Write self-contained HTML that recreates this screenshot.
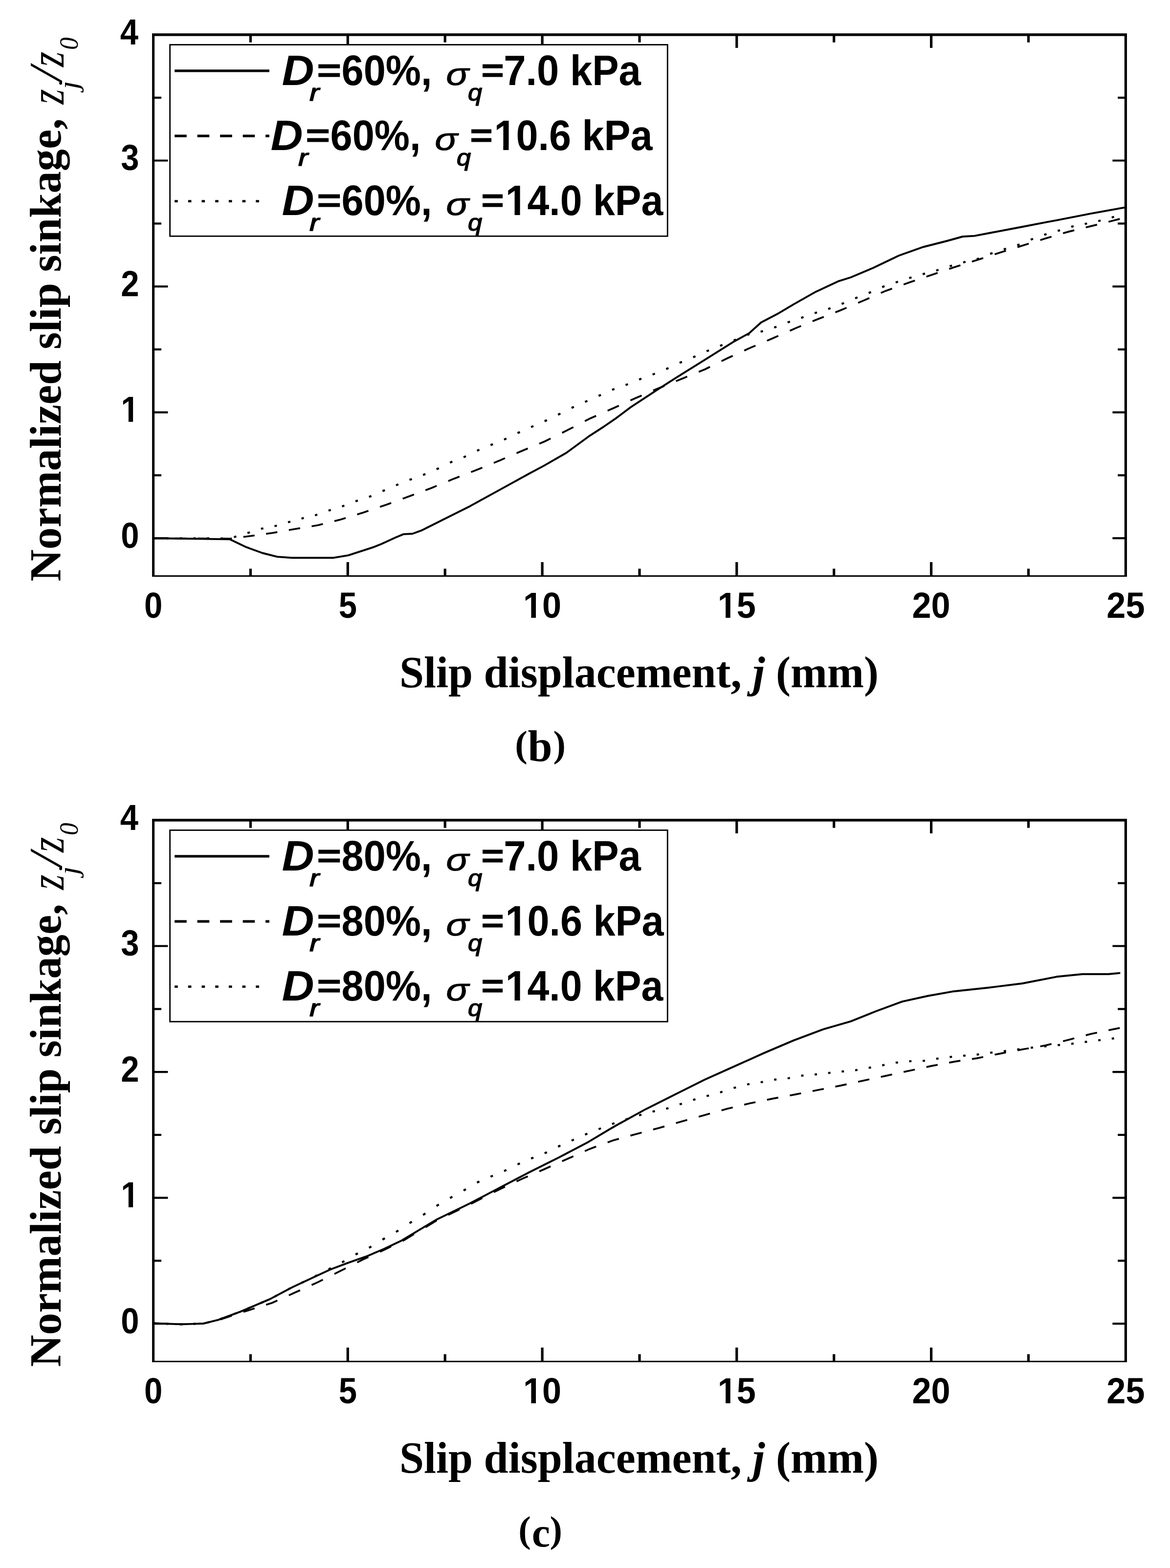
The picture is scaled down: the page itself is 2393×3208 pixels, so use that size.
<!DOCTYPE html>
<html lang="en">
<head>
<meta charset="utf-8">
<title>Normalized slip sinkage versus slip displacement</title>
<style>
html,body{margin:0;padding:0;background:#fff;}
body{width:2393px;height:3208px;overflow:hidden;}
svg{display:block;}
text{white-space:pre;fill:#000;}
.sb{font-family:"Liberation Sans",Arial,Helvetica,sans-serif;font-weight:700;}
.sbi{font-family:"Liberation Sans",Arial,Helvetica,sans-serif;font-weight:700;font-style:italic;}
.tb{font-family:"Liberation Serif","Times New Roman",Times,serif;font-weight:700;}
.tbi{font-family:"Liberation Serif","Times New Roman",Times,serif;font-weight:700;font-style:italic;}
.ti{font-family:"Liberation Serif","Times New Roman",Times,serif;font-weight:400;font-style:italic;}
.si{font-family:"Liberation Sans",Arial,Helvetica,sans-serif;font-weight:400;font-style:italic;}
.i{font-style:italic;}
</style>
</head>
<body>
<svg width="2393" height="3208" viewBox="0 0 2393 3208">
<rect width="2393" height="3208" fill="#fff"/>
<defs>
<clipPath id="k0" clipPathUnits="userSpaceOnUse"><path d="M-55.96 -88.80H55.96V37.00H-55.96ZM-39.04 -8.35H-23.88V1.50H-39.04ZM-13.73 -8.35H0.09V1.50H-13.73Z" clip-rule="evenodd"/></clipPath>
<clipPath id="k1" clipPathUnits="userSpaceOnUse"><path d="M-55.96 -88.80H55.96V37.00H-55.96ZM-39.04 -8.35H-23.88V1.50H-39.04ZM-13.73 -8.35H0.09V1.50H-13.73Z" clip-rule="evenodd"/></clipPath>
<clipPath id="k2" clipPathUnits="userSpaceOnUse"><path d="M-55.96 -88.80H14.80V37.00H-55.96ZM-39.04 -8.35H-23.88V1.50H-39.04ZM-13.73 -8.35H0.09V1.50H-13.73Z" clip-rule="evenodd"/></clipPath>
<clipPath id="k3" clipPathUnits="userSpaceOnUse"><path d="M-17.60 -105.60H369.90V44.00H-17.60ZM2.80 -9.78H20.54V1.50H2.80ZM32.61 -9.78H48.77V1.50H32.61Z" clip-rule="evenodd"/></clipPath>
<clipPath id="k4" clipPathUnits="userSpaceOnUse"><path d="M-17.60 -105.60H369.90V44.00H-17.60ZM2.80 -9.78H20.54V1.50H2.80ZM32.61 -9.78H48.77V1.50H32.61Z" clip-rule="evenodd"/></clipPath>
</defs>
<g transform="translate(0,0)">
<path d="M512.4 1178v-14.6M512.4 72v14.8M711.3 1178v-28M711.3 72v26M910.2 1178v-14.6M910.2 72v14.8M1109.1 1178v-28M1109.1 72v26M1308.0 1178v-14.6M1308.0 72v14.8M1506.8 1178v-28M1506.8 72v26M1705.7 1178v-14.6M1705.7 72v14.8M1904.6 1178v-28M1904.6 72v26M2103.5 1178v-14.6M2103.5 72v14.8" stroke="#000" stroke-width="5.2" fill="none"/>
<path d="M316 1101.1h27.4M2300 1101.1h-24.6M316 972.4h14M2300 972.4h-13.8M316 843.6h27.4M2300 843.6h-24.6M316 714.8h14M2300 714.8h-13.8M316 586.1h27.4M2300 586.1h-24.6M316 457.3h14M2300 457.3h-13.8M316 328.5h27.4M2300 328.5h-24.6M316 199.8h14M2300 199.8h-13.8" stroke="#000" stroke-width="4.2" fill="none"/>
<path d="M313.5 1101.3L317.6 1101.3M340.4 1101.3L345.2 1101.3M368.0 1101.4L372.8 1101.4M395.7 1101.4L400.5 1101.4M423.3 1101.4L428.1 1101.4M450.9 1101.5L455.7 1101.5M478.5 1098.9L483.3 1097.5M506.1 1090.6L508.0 1090.0L510.9 1089.1M533.8 1082.1L535.5 1081.6L538.6 1081.0M561.4 1076.4L563.6 1076.0L566.2 1075.2M589.0 1068.6L591.0 1068.0L593.8 1067.2M616.6 1061.0L618.7 1060.4L621.4 1059.7M644.2 1054.2L647.0 1053.5L649.0 1052.8M671.9 1044.8L674.7 1043.8L676.7 1043.2M699.5 1036.1L702.0 1035.3L704.3 1034.4M727.1 1025.7L729.0 1025.0L731.9 1024.0M754.7 1016.6L756.4 1016.0L759.5 1014.7M782.3 1004.8L783.6 1004.3L787.1 1002.8M810.0 992.9L811.8 992.1L814.8 990.9M837.6 981.8L839.9 980.9L842.4 980.0M865.2 971.7L867.2 971.0L870.0 969.8M892.8 960.0L895.6 958.8L897.6 957.8M920.4 946.6L923.2 945.2L925.2 944.4M948.1 935.4L950.1 934.6L952.9 933.3M975.7 922.2L977.6 921.3L980.5 920.1M1003.3 910.7L1005.5 909.8L1008.1 908.7M1030.9 899.3L1032.7 898.6L1035.7 897.1M1058.5 886.1L1060.9 885.0L1063.3 883.9M1086.2 873.8L1088.1 872.9L1091.0 871.7M1113.8 861.7L1116.6 860.5L1118.6 859.5M1141.4 848.5L1144.1 847.2L1146.2 846.1M1169.0 834.6L1171.3 833.5L1173.8 832.4M1196.6 822.3L1198.6 821.4L1201.4 820.1M1224.3 810.0L1226.4 809.0L1229.1 807.8M1251.9 797.7L1253.7 796.9L1256.7 795.8M1279.5 787.7L1281.8 786.9L1284.3 785.9M1307.1 776.5L1309.9 775.4L1311.9 774.7M1334.7 766.3L1337.2 765.4L1339.5 764.4M1362.4 755.0L1364.4 754.2L1367.2 752.9M1390.0 742.4L1392.6 741.2L1394.8 740.3M1417.6 730.9L1419.8 730.0L1422.4 728.8M1445.2 718.7L1447.0 717.9L1450.0 716.7M1472.8 707.5L1474.9 706.7L1477.6 705.6M1500.5 696.6L1502.0 696.0L1505.3 694.6M1528.1 685.1L1529.4 684.6L1532.9 683.8M1555.7 678.6L1558.1 678.0L1560.5 677.3M1583.3 670.1L1585.4 669.5L1588.1 668.5M1610.9 659.8L1613.2 658.9L1615.7 658.1M1638.6 650.4L1640.4 649.8L1643.4 648.8M1666.2 640.7L1668.0 640.1L1671.0 639.2M1693.8 632.1L1695.2 631.7L1698.6 630.4M1721.4 621.8L1723.4 621.1L1726.2 619.9M1749.0 610.4L1750.6 609.7L1753.8 608.4M1776.7 599.5L1779.1 598.5L1781.5 597.5M1804.3 587.5L1806.5 586.5L1809.1 585.6M1831.9 577.9L1834.0 577.2L1836.7 576.3M1859.5 569.1L1861.1 568.6L1864.3 567.6M1887.1 560.9L1887.8 560.7L1891.9 559.6M1914.8 553.5L1915.7 553.2L1919.6 552.0M1942.4 544.7L1945.0 543.9L1947.2 543.3M1970.0 536.9L1971.7 536.4L1974.8 535.6M1997.6 530.0L2001.0 529.2L2002.4 528.6M2025.2 519.5L2027.6 518.6L2030.0 517.8M2052.9 510.2L2054.2 509.8L2057.7 508.7M2080.5 501.8L2082.2 501.3L2085.3 500.0M2108.1 490.4L2109.6 489.8L2112.9 488.6M2135.7 480.4L2136.8 480.0L2140.5 478.9M2163.3 472.3L2164.8 471.9L2168.1 470.9M2191.0 464.1L2192.6 463.6L2195.8 462.9M2218.6 458.2L2220.5 457.8L2223.4 457.2M2246.2 452.3L2248.9 451.7L2251.0 451.1M2273.8 444.9L2276.2 444.2L2278.6 443.6" fill="none" stroke="#000" stroke-width="4.2"/>
<path d="M313.5 1101.3L334.4 1101.4M358.0 1101.5L381.0 1101.6M404.5 1101.7L427.5 1101.8M451.1 1101.9L470.0 1102.0L474.1 1101.5M497.7 1098.5L509.5 1097.0L520.7 1095.5M544.2 1092.2L556.5 1090.5L567.2 1088.6M590.8 1084.5L603.5 1082.3L613.8 1080.6M637.4 1076.7L650.5 1074.5L660.4 1072.0M684.0 1066.1L696.5 1063.0L707.0 1059.8M730.5 1052.5L743.5 1048.5L753.5 1045.1M777.1 1037.0L790.6 1032.4L800.1 1028.9M823.7 1020.3L836.0 1015.8L846.7 1011.8M870.2 1003.0L882.9 998.2L893.2 993.9M916.8 984.2L928.3 979.4L939.8 975.0M963.4 965.9L975.2 961.3L986.4 956.7M1009.9 947.1L1021.2 942.5L1032.9 937.4M1056.5 927.2L1067.5 922.5L1079.5 917.5M1103.1 907.7L1113.8 903.2L1126.1 897.1M1149.7 885.5L1160.4 880.2L1172.7 873.9M1196.2 861.7L1206.8 856.2L1219.2 850.7M1242.8 840.3L1253.1 835.7L1265.8 830.0M1289.4 819.3L1299.3 814.8L1312.4 809.2M1335.9 799.0L1341.7 796.5L1358.9 789.5M1382.5 779.9L1393.2 775.5L1405.5 770.5M1429.1 760.8L1441.6 755.7L1452.1 750.5M1475.7 738.9L1487.6 733.0L1498.7 728.0M1522.2 717.2L1533.9 711.9L1545.2 707.1M1568.8 697.1L1580.2 692.2L1591.8 687.1M1615.4 676.7L1626.8 671.6L1638.4 666.9M1661.9 657.3L1673.1 652.8L1684.9 648.2M1708.5 639.0L1719.4 634.7L1731.5 629.6M1755.1 619.6L1764.6 615.6L1778.1 609.7M1801.6 599.4L1812.0 594.9L1824.6 590.4M1848.2 582.1L1859.4 578.1L1871.2 574.1M1894.8 566.1L1906.1 562.3L1917.8 558.3M1941.3 550.3L1952.4 546.5L1964.3 542.7M1987.9 535.2L1999.1 531.7L2010.9 527.9M2034.5 520.3L2043.7 517.3L2057.5 513.0M2081.1 505.7L2091.1 502.6L2104.1 498.6M2127.6 491.3L2137.8 488.1L2150.6 484.3M2174.2 477.3L2185.2 474.1L2197.2 471.1M2220.8 465.3L2231.6 462.6L2243.8 459.6M2267.3 453.7L2279.0 450.8L2290.3 447.9" fill="none" stroke="#000" stroke-width="3.7"/>
<path d="M313.5 1101.3L400.0 1102.3L470.4 1103.4L503.7 1119.4L537.0 1131.5L567.3 1139.1L597.5 1141.2L682.3 1141.2L712.5 1136.1L764.0 1119.4L780.0 1113.0L809.4 1099.5L825.4 1092.9L843.6 1092.0L861.7 1085.4L901.1 1065.7L961.6 1035.4L1022.1 1002.1L1082.7 968.8L1112.9 952.6L1158.3 926.5L1203.7 893.2L1234.0 873.5L1260.0 855.6L1290.3 832.9L1338.7 801.2L1381.1 773.9L1441.6 736.1L1502.1 698.2L1532.4 681.6L1556.6 659.8L1592.9 640.7L1623.2 622.6L1668.6 596.9L1714.0 575.7L1740.0 567.5L1785.6 548.2L1838.3 523.0L1887.5 505.5L1936.6 493.0L1969.0 484.0L1993.0 482.6L2027.9 476.0L2091.1 464.0L2139.5 454.6L2161.3 450.6L2231.6 436.8L2300.0 424.6" fill="none" stroke="#000" stroke-width="3.9" stroke-linejoin="round"/>
<path d="M311 68.3H2305V1180H311Z M316.1 73.8V1176.9H2299.8V73.8Z" fill="#000" fill-rule="evenodd"/>
<text class="sb" transform="translate(313.5 1263.5) scale(0.905 1)" font-size="74" text-anchor="middle">0</text>
<text class="sb" transform="translate(711.3 1263.5) scale(0.905 1)" font-size="74" text-anchor="middle">5</text>
<text class="sb" transform="translate(1109.1 1263.5) scale(0.95 1)" font-size="74" text-anchor="middle" clip-path="url(#k0)">10</text>
<text class="sb" transform="translate(1506.8 1263.5) scale(0.95 1)" font-size="74" text-anchor="middle" clip-path="url(#k1)">15</text>
<text class="sb" transform="translate(1904.6 1263.5) scale(0.95 1)" font-size="74" text-anchor="middle">20</text>
<text class="sb" transform="translate(2302.4 1263.5) scale(0.95 1)" font-size="74" text-anchor="middle">25</text>
<text class="sb" transform="translate(284.5 1120.7) scale(0.905 1)" font-size="74" text-anchor="end">0</text>
<text class="sb" transform="translate(284.5 863.2) scale(0.905 1)" font-size="74" text-anchor="end" clip-path="url(#k2)">1</text>
<text class="sb" transform="translate(284.5 605.7) scale(0.905 1)" font-size="74" text-anchor="end">2</text>
<text class="sb" transform="translate(284.5 348.1) scale(0.905 1)" font-size="74" text-anchor="end">3</text>
<text class="sb" transform="translate(283.0 90.6) scale(0.905 1)" font-size="74" text-anchor="end">4</text>
<text class="tb" transform="translate(817.0 1406.0)" font-size="90">Slip displacement, <tspan class="i">j</tspan> (mm)</text>
<text class="tb" transform="translate(123.5 1189.5) rotate(-90) scale(1.005 1)" font-size="90">Normalized slip sinkage, </text><g transform="translate(0 1189.5) rotate(-90)"><text class="ti" transform="translate(976.1 129.8) scale(0.8924 1.094)" font-size="90">z</text><text class="ti" transform="translate(1006.8 158.8) scale(1.091 1)" font-size="57">j</text><text class="ti" transform="translate(1023.4 126.2) scale(1.164 1.065)" font-size="90">/</text><text class="ti" transform="translate(1052.5 129.8) scale(0.8953 1.094)" font-size="90">z</text><text class="ti" transform="translate(1087.5 159.1) scale(0.9671 1.023)" font-size="53">0</text></g>
<rect x="347.6" y="91.5" width="1017.6999999999999" height="391.7" fill="#fff" stroke="#000" stroke-width="2.8"/>
<path d="M357.1 144.8H550.9" fill="none" stroke="#000" stroke-width="5.3"/>
<g><text class="sbi" transform="translate(576.5 174.0) scale(1.038 1)" font-size="88">D</text><text class="si" transform="translate(633.0 206.0) scale(1.256 1)" font-size="48" stroke="#000" stroke-width="1.5" stroke-linejoin="round">r</text><text class="sb" transform="translate(648.6 166.1) scale(0.9608 0.735)" font-size="88" stroke="#000" stroke-width="1.63" stroke-linejoin="miter">=</text><text class="sb" transform="translate(698.6 174.0) scale(0.9218 1)" font-size="88">60%, </text><text class="si" transform="translate(912.3 174.0) scale(1.195 1)" font-size="65" stroke="#000" stroke-width="1" stroke-linejoin="round">σ</text><text class="si" transform="translate(956.9 206.0) scale(1.087 1)" font-size="48" stroke="#000" stroke-width="1.5" stroke-linejoin="round">q</text><text class="sb" transform="translate(984.5 166.1) scale(0.8974 0.735)" font-size="88" stroke="#000" stroke-width="1.63" stroke-linejoin="miter">=</text><text class="sb" transform="translate(1030.2 174.0) scale(0.9256 1)" font-size="88">7.0 kPa</text></g>
<path d="M357.1 278.2H550.9" fill="none" stroke="#000" stroke-width="5.3" stroke-dasharray="24.6 21.9"/>
<g><text class="sbi" transform="translate(553.5 307.1) scale(1.038 1)" font-size="88">D</text><text class="si" transform="translate(610.0 339.1) scale(1.256 1)" font-size="48" stroke="#000" stroke-width="1.5" stroke-linejoin="round">r</text><text class="sb" transform="translate(625.6 299.2) scale(0.9608 0.735)" font-size="88" stroke="#000" stroke-width="1.63" stroke-linejoin="miter">=</text><text class="sb" transform="translate(675.6 307.1) scale(0.9218 1)" font-size="88">60%, </text><text class="si" transform="translate(889.3 307.1) scale(1.195 1)" font-size="65" stroke="#000" stroke-width="1" stroke-linejoin="round">σ</text><text class="si" transform="translate(933.9 339.1) scale(1.087 1)" font-size="48" stroke="#000" stroke-width="1.5" stroke-linejoin="round">q</text><text class="sb" transform="translate(961.5 299.2) scale(0.8974 0.735)" font-size="88" stroke="#000" stroke-width="1.63" stroke-linejoin="miter">=</text><text class="sb" transform="translate(1010.4 307.1) scale(0.9202 1)" font-size="88" clip-path="url(#k3)">10.6 kPa</text></g>
<path d="M357.1 411.6H550.9" fill="none" stroke="#000" stroke-width="4.8" stroke-dasharray="6.6 21.1"/>
<g><text class="sbi" transform="translate(576.5 440.3) scale(1.038 1)" font-size="88">D</text><text class="si" transform="translate(633.0 472.3) scale(1.256 1)" font-size="48" stroke="#000" stroke-width="1.5" stroke-linejoin="round">r</text><text class="sb" transform="translate(648.6 432.4) scale(0.9608 0.735)" font-size="88" stroke="#000" stroke-width="1.63" stroke-linejoin="miter">=</text><text class="sb" transform="translate(698.6 440.3) scale(0.9218 1)" font-size="88">60%, </text><text class="si" transform="translate(912.3 440.3) scale(1.195 1)" font-size="65" stroke="#000" stroke-width="1" stroke-linejoin="round">σ</text><text class="si" transform="translate(956.9 472.3) scale(1.087 1)" font-size="48" stroke="#000" stroke-width="1.5" stroke-linejoin="round">q</text><text class="sb" transform="translate(984.5 432.4) scale(0.8974 0.735)" font-size="88" stroke="#000" stroke-width="1.63" stroke-linejoin="miter">=</text><text class="sb" transform="translate(1033.7 440.3) scale(0.9162 1)" font-size="88" clip-path="url(#k4)">14.0 kPa</text></g>
<text class="tb" font-size="90"><tspan x="1053.2" y="1548.1000000000001" font-size="76.5">(</tspan><tspan x="1079.5" y="1557.2">b</tspan><tspan x="1131.4" y="1548.1000000000001" font-size="76.5">)</tspan></text>
</g>
<g transform="translate(0,1607)">
<path d="M512.4 1178v-14.6M512.4 72v14.8M711.3 1178v-28M711.3 72v26M910.2 1178v-14.6M910.2 72v14.8M1109.1 1178v-28M1109.1 72v26M1308.0 1178v-14.6M1308.0 72v14.8M1506.8 1178v-28M1506.8 72v26M1705.7 1178v-14.6M1705.7 72v14.8M1904.6 1178v-28M1904.6 72v26M2103.5 1178v-14.6M2103.5 72v14.8" stroke="#000" stroke-width="5.2" fill="none"/>
<path d="M316 1101.1h27.4M2300 1101.1h-24.6M316 972.4h14M2300 972.4h-13.8M316 843.6h27.4M2300 843.6h-24.6M316 714.8h14M2300 714.8h-13.8M316 586.1h27.4M2300 586.1h-24.6M316 457.3h14M2300 457.3h-13.8M316 328.5h27.4M2300 328.5h-24.6M316 199.8h14M2300 199.8h-13.8" stroke="#000" stroke-width="4.2" fill="none"/>
<path d="M313.5 1100.3L317.6 1100.5M340.4 1101.3L345.2 1101.5M368.0 1102.3L370.5 1102.4L372.8 1102.3M395.7 1101.6L400.5 1101.4M423.3 1099.0L428.1 1097.8M450.9 1091.6L455.7 1089.8M478.5 1081.4L483.3 1079.6M506.1 1070.4L510.9 1068.4M533.8 1058.7L538.6 1056.7M561.4 1046.0L566.2 1043.4M589.0 1031.2L593.8 1028.7M616.6 1017.6L621.4 1015.3M644.2 1004.3L649.0 1001.8M671.9 990.0L674.7 988.5L676.7 987.5M699.5 975.6L702.0 974.3L704.3 973.0M727.1 959.8L729.2 958.6L731.9 957.2M754.7 945.8L756.4 945.0L759.5 943.1M782.3 929.2L783.6 928.4L787.1 926.4M810.0 913.4L811.8 912.3L814.8 910.4M837.6 895.5L839.6 894.2L842.4 892.5M865.2 878.7L867.2 877.5L870.0 875.6M892.8 860.4L894.4 859.3L897.6 857.4M920.4 844.1L922.9 842.7L925.2 841.4M948.1 828.7L950.1 827.6L952.9 826.0M975.7 812.6L977.6 811.5L980.5 810.3M1003.3 800.4L1004.9 799.7L1008.1 798.4M1030.9 788.9L1032.7 788.2L1035.7 786.7M1058.5 775.3L1060.0 774.6L1063.3 773.2M1086.2 763.3L1088.1 762.5L1091.0 761.4M1113.8 752.4L1116.6 751.3L1118.6 750.3M1141.4 739.0L1144.1 737.7L1146.2 736.8M1169.0 726.6L1171.3 725.6L1173.8 724.5M1196.6 714.4L1198.6 713.5L1201.4 712.4M1224.3 703.2L1225.8 702.6L1229.1 701.4M1251.9 692.7L1253.7 692.0L1256.7 691.0M1279.5 683.5L1281.0 683.0L1284.3 682.0M1307.1 674.9L1308.4 674.5L1311.9 673.5M1334.7 667.3L1336.3 666.9L1339.5 666.2M1362.4 661.3L1364.4 660.9L1367.2 660.0M1390.0 652.6L1392.3 651.8L1394.8 651.0M1417.6 643.4L1419.8 642.7L1422.4 642.0M1445.2 635.6L1447.0 635.1L1450.0 634.3M1472.8 628.0L1474.3 627.6L1477.6 626.5M1500.5 619.0L1502.1 618.5L1505.3 617.7M1528.1 611.8L1529.4 611.5L1532.9 610.9M1555.7 607.3L1557.5 607.0L1560.5 606.4M1583.3 602.1L1584.8 601.8L1588.1 601.4M1610.9 599.0L1613.2 598.8L1615.7 598.3M1638.6 594.0L1640.4 593.7L1643.4 593.4M1666.2 591.4L1668.0 591.2L1671.0 590.9M1693.8 588.4L1695.2 588.2L1698.6 587.8M1721.4 585.3L1722.5 585.2L1726.2 584.8M1749.0 582.6L1750.4 582.5L1753.8 581.9M1776.7 577.8L1778.6 577.4L1781.5 576.9M1804.3 572.6L1806.7 572.1L1809.1 571.6M1831.9 567.3L1834.1 566.9L1836.7 566.6M1859.5 564.3L1861.8 564.1L1864.3 564.0M1887.1 563.5L1889.2 563.4L1891.9 563.0M1914.8 559.2L1917.3 558.8L1919.6 558.5M1942.4 555.6L1944.7 555.3L1947.2 555.1M1970.0 553.0L1971.7 552.8L1974.8 552.5M1997.6 550.6L1999.8 550.4L2002.4 550.0M2025.2 546.9L2027.9 546.5L2030.0 546.3M2052.9 543.7L2056.0 543.4L2057.7 543.2M2080.5 540.2L2085.3 539.6M2108.1 536.6L2110.4 536.3L2112.9 536.1M2135.7 533.9L2140.5 533.4M2163.3 531.2L2164.9 531.1L2168.1 530.8M2191.0 528.5L2193.0 528.3L2195.8 527.9M2218.6 524.9L2220.3 524.7L2223.4 524.3M2246.2 521.5L2248.4 521.2L2251.0 520.9M2273.8 518.0L2276.2 517.7L2278.6 517.4" fill="none" stroke="#000" stroke-width="4.2"/>
<path d="M313.5 1100.3L334.4 1101.1M358.0 1101.9L370.5 1102.4L381.0 1102.1M404.5 1101.3L415.9 1100.9L427.5 1098.2M451.1 1092.4L474.1 1084.8M497.7 1077.1L520.7 1069.8M544.2 1062.4L556.7 1058.5L567.2 1053.7M590.8 1043.1L603.6 1037.3L613.8 1032.7M637.4 1022.0L650.5 1016.1L660.4 1011.2M684.0 999.4L695.9 993.4L707.0 987.8M730.5 975.8L742.8 969.5L753.5 964.7M777.1 954.0L785.3 950.3L800.1 943.2M823.7 931.8L846.7 917.9M870.2 903.8L893.2 890.0M916.8 878.5L939.6 867.6L939.8 867.5M963.4 855.9L986.4 844.2M1009.9 832.2L1022.1 826.0L1032.9 821.0M1056.5 810.0L1067.5 804.9L1079.5 799.7M1103.1 789.5L1112.9 785.2L1126.1 779.3M1149.7 768.8L1160.4 764.0L1172.7 758.6M1196.2 748.1L1206.8 743.4L1219.2 738.8M1242.8 730.2L1253.7 726.2L1265.8 722.9M1289.4 716.4L1300.9 713.2L1312.4 710.2M1335.9 703.9L1347.8 700.8L1358.9 697.6M1382.5 690.8L1394.1 687.5L1405.5 684.3M1429.1 677.7L1440.7 674.5L1452.1 671.3M1475.7 664.7L1487.0 661.5L1498.7 658.7M1522.2 653.1L1533.9 650.3L1545.2 648.0M1568.8 643.1L1580.8 640.6L1591.8 638.6M1615.4 634.2L1626.8 632.1L1638.4 629.8M1661.9 625.2L1673.1 623.0L1684.9 620.7M1708.5 616.1L1720.0 613.9L1731.5 611.4M1755.1 606.2L1766.3 603.7L1778.1 601.2M1801.6 596.2L1812.7 593.9L1824.6 591.3M1848.2 586.1L1859.4 583.7L1871.2 581.2M1894.8 576.1L1905.0 573.9L1917.8 571.5M1941.3 567.1L1951.7 565.1L1964.3 563.2M1987.9 559.6L1998.1 558.1L2010.9 555.5M2034.5 550.8L2045.5 548.6L2057.5 546.3M2081.1 541.9L2092.2 539.8L2104.1 537.8M2127.6 533.7L2138.5 531.8L2150.6 528.9M2174.2 523.2L2185.2 520.5L2197.2 517.3M2220.8 511.1L2231.6 508.2L2243.8 505.7M2267.3 500.8L2279.0 498.4L2290.3 496.1" fill="none" stroke="#000" stroke-width="3.7"/>
<path d="M313.5 1100.3L370.5 1102.4L415.9 1100.9L446.2 1093.3L491.6 1076.6L552.1 1050.9L597.5 1026.7L642.9 1005.5L676.3 990.0L712.6 976.4L749.0 963.7L785.3 948.3L821.6 931.0L857.9 909.2L894.2 887.4L939.6 865.6L961.6 854.8L1022.1 823.0L1082.7 791.2L1143.2 761.0L1203.7 729.2L1249.1 702.0L1260.0 695.7L1320.5 662.4L1381.1 632.1L1441.6 601.8L1502.1 574.6L1562.7 547.4L1623.2 521.6L1683.7 498.9L1740.0 482.6L1792.7 461.5L1845.3 442.2L1898.0 430.5L1950.7 421.2L2020.9 413.8L2091.1 405.0L2161.3 391.3L2214.0 386.0L2266.7 386.0L2291.3 383.6" fill="none" stroke="#000" stroke-width="3.9" stroke-linejoin="round"/>
<path d="M311 68.3H2305V1180H311Z M316.1 73.8V1176.9H2299.8V73.8Z" fill="#000" fill-rule="evenodd"/>
<text class="sb" transform="translate(313.5 1263.5) scale(0.905 1)" font-size="74" text-anchor="middle">0</text>
<text class="sb" transform="translate(711.3 1263.5) scale(0.905 1)" font-size="74" text-anchor="middle">5</text>
<text class="sb" transform="translate(1109.1 1263.5) scale(0.95 1)" font-size="74" text-anchor="middle" clip-path="url(#k0)">10</text>
<text class="sb" transform="translate(1506.8 1263.5) scale(0.95 1)" font-size="74" text-anchor="middle" clip-path="url(#k1)">15</text>
<text class="sb" transform="translate(1904.6 1263.5) scale(0.95 1)" font-size="74" text-anchor="middle">20</text>
<text class="sb" transform="translate(2302.4 1263.5) scale(0.95 1)" font-size="74" text-anchor="middle">25</text>
<text class="sb" transform="translate(284.5 1120.7) scale(0.905 1)" font-size="74" text-anchor="end">0</text>
<text class="sb" transform="translate(284.5 863.2) scale(0.905 1)" font-size="74" text-anchor="end" clip-path="url(#k2)">1</text>
<text class="sb" transform="translate(284.5 605.7) scale(0.905 1)" font-size="74" text-anchor="end">2</text>
<text class="sb" transform="translate(284.5 348.1) scale(0.905 1)" font-size="74" text-anchor="end">3</text>
<text class="sb" transform="translate(283.0 90.6) scale(0.905 1)" font-size="74" text-anchor="end">4</text>
<text class="tb" transform="translate(817.0 1406.0)" font-size="90">Slip displacement, <tspan class="i">j</tspan> (mm)</text>
<text class="tb" transform="translate(123.5 1189.5) rotate(-90) scale(1.005 1)" font-size="90">Normalized slip sinkage, </text><g transform="translate(0 1189.5) rotate(-90)"><text class="ti" transform="translate(976.1 129.8) scale(0.8924 1.094)" font-size="90">z</text><text class="ti" transform="translate(1006.8 158.8) scale(1.091 1)" font-size="57">j</text><text class="ti" transform="translate(1023.4 126.2) scale(1.164 1.065)" font-size="90">/</text><text class="ti" transform="translate(1052.5 129.8) scale(0.8953 1.094)" font-size="90">z</text><text class="ti" transform="translate(1087.5 159.1) scale(0.9671 1.023)" font-size="53">0</text></g>
<rect x="347.6" y="91.5" width="1017.6999999999999" height="391.7" fill="#fff" stroke="#000" stroke-width="2.8"/>
<path d="M357.1 144.8H550.9" fill="none" stroke="#000" stroke-width="5.3"/>
<g><text class="sbi" transform="translate(576.5 174.0) scale(1.038 1)" font-size="88">D</text><text class="si" transform="translate(633.0 206.0) scale(1.256 1)" font-size="48" stroke="#000" stroke-width="1.5" stroke-linejoin="round">r</text><text class="sb" transform="translate(648.6 166.1) scale(0.9608 0.735)" font-size="88" stroke="#000" stroke-width="1.63" stroke-linejoin="miter">=</text><text class="sb" transform="translate(698.6 174.0) scale(0.9218 1)" font-size="88">80%, </text><text class="si" transform="translate(912.3 174.0) scale(1.195 1)" font-size="65" stroke="#000" stroke-width="1" stroke-linejoin="round">σ</text><text class="si" transform="translate(956.9 206.0) scale(1.087 1)" font-size="48" stroke="#000" stroke-width="1.5" stroke-linejoin="round">q</text><text class="sb" transform="translate(984.5 166.1) scale(0.8974 0.735)" font-size="88" stroke="#000" stroke-width="1.63" stroke-linejoin="miter">=</text><text class="sb" transform="translate(1030.2 174.0) scale(0.9256 1)" font-size="88">7.0 kPa</text></g>
<path d="M357.1 278.2H550.9" fill="none" stroke="#000" stroke-width="5.3" stroke-dasharray="24.6 21.9"/>
<g><text class="sbi" transform="translate(576.5 307.1) scale(1.038 1)" font-size="88">D</text><text class="si" transform="translate(633.0 339.1) scale(1.256 1)" font-size="48" stroke="#000" stroke-width="1.5" stroke-linejoin="round">r</text><text class="sb" transform="translate(648.6 299.2) scale(0.9608 0.735)" font-size="88" stroke="#000" stroke-width="1.63" stroke-linejoin="miter">=</text><text class="sb" transform="translate(698.6 307.1) scale(0.9218 1)" font-size="88">80%, </text><text class="si" transform="translate(912.3 307.1) scale(1.195 1)" font-size="65" stroke="#000" stroke-width="1" stroke-linejoin="round">σ</text><text class="si" transform="translate(956.9 339.1) scale(1.087 1)" font-size="48" stroke="#000" stroke-width="1.5" stroke-linejoin="round">q</text><text class="sb" transform="translate(984.5 299.2) scale(0.8974 0.735)" font-size="88" stroke="#000" stroke-width="1.63" stroke-linejoin="miter">=</text><text class="sb" transform="translate(1033.4 307.1) scale(0.9202 1)" font-size="88" clip-path="url(#k3)">10.6 kPa</text></g>
<path d="M357.1 411.6H550.9" fill="none" stroke="#000" stroke-width="4.8" stroke-dasharray="6.6 21.1"/>
<g><text class="sbi" transform="translate(576.5 440.3) scale(1.038 1)" font-size="88">D</text><text class="si" transform="translate(633.0 472.3) scale(1.256 1)" font-size="48" stroke="#000" stroke-width="1.5" stroke-linejoin="round">r</text><text class="sb" transform="translate(648.6 432.4) scale(0.9608 0.735)" font-size="88" stroke="#000" stroke-width="1.63" stroke-linejoin="miter">=</text><text class="sb" transform="translate(698.6 440.3) scale(0.9218 1)" font-size="88">80%, </text><text class="si" transform="translate(912.3 440.3) scale(1.195 1)" font-size="65" stroke="#000" stroke-width="1" stroke-linejoin="round">σ</text><text class="si" transform="translate(956.9 472.3) scale(1.087 1)" font-size="48" stroke="#000" stroke-width="1.5" stroke-linejoin="round">q</text><text class="sb" transform="translate(984.5 432.4) scale(0.8974 0.735)" font-size="88" stroke="#000" stroke-width="1.63" stroke-linejoin="miter">=</text><text class="sb" transform="translate(1033.7 440.3) scale(0.9162 1)" font-size="88" clip-path="url(#k4)">14.0 kPa</text></g>
<text class="tb" font-size="84"><tspan x="1060.2" y="1548.1000000000001" font-size="76.5">(</tspan><tspan x="1087.7" y="1557.2">c</tspan><tspan x="1124.4" y="1548.1000000000001" font-size="76.5">)</tspan></text>
</g>
</svg>
</body>
</html>
